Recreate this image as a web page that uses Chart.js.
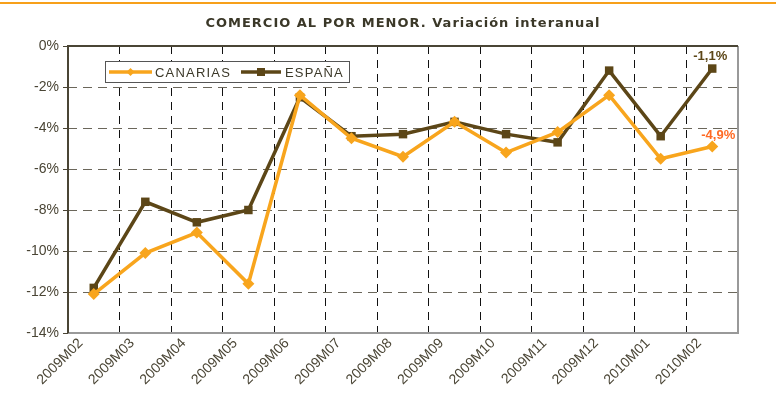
<!DOCTYPE html>
<html>
<head>
<meta charset="utf-8">
<script src="https://cdn.jsdelivr.net/npm/chart.js@4/dist/chart.umd.min.js"></script>
<style>
  html, body { margin: 0; padding: 0; background: #fff; }
  #wrap { width: 778px; height: 414px; position: relative; }
</style>
</head>
<body>
<div id="wrap"><canvas id="chart"></canvas></div>
<script>
const months = ['2009M02','2009M03','2009M04','2009M05','2009M06','2009M07','2009M08',
                '2009M09','2009M10','2009M11','2009M12','2010M01','2010M02'];
const canarias = [-12.1,-10.1,-9.1,-11.6,-2.4,-4.5,-5.4,-3.7,-5.2,-4.2,-2.4,-5.5,-4.9];
const espana   = [-11.8,-7.6,-8.6,-8.0,-2.5,-4.4,-4.3,-3.7,-4.3,-4.7,-1.2,-4.4,-1.1];
const yTicks = [0,-2,-4,-6,-8,-10,-12,-14];
const chartTitle = 'COMERCIO AL POR MENOR. Variación interanual';

const ORANGE = '#f8a51d';
const BROWN = '#5c4617';
const TEXT = '#4a4535';

function fmtPct(v){ return v.toFixed(1).replace('.', ',') + '%'; }

// top orange rule + title + frame
const decor = {
  id: 'decor',
  beforeDraw(chart){
    const {ctx, chartArea: a} = chart;
    ctx.save();
    ctx.fillStyle = '#fff';
    ctx.fillRect(0, 0, chart.width, chart.height);
    ctx.fillStyle = '#f7a01a';
    ctx.fillRect(0, 2, 776, 2);
    ctx.fillStyle = '#3b3828';
    ctx.font = 'bold 13px "DejaVu Sans"';
    ctx.letterSpacing = '1px';
    ctx.textAlign = 'center';
    ctx.textBaseline = 'middle';
    ctx.fillText(chartTitle, (a.left + a.right) / 2, 24);
    ctx.restore();
  },
  beforeDatasetsDraw(chart){
    const {ctx, chartArea: a} = chart;
    ctx.save();
    ctx.lineWidth = 2;
    ctx.strokeStyle = '#999';
    ctx.beginPath();
    ctx.moveTo(a.left, a.bottom); ctx.lineTo(a.right, a.bottom); ctx.lineTo(a.right, a.top);
    ctx.stroke();
    ctx.strokeStyle = '#4a4535';
    ctx.beginPath();
    ctx.moveTo(a.right, a.top); ctx.lineTo(a.left, a.top); ctx.lineTo(a.left, a.bottom);
    ctx.stroke();
    ctx.restore();
  },
  afterDraw(chart){
    const {ctx} = chart;
    ctx.save();
    // legend box
    ctx.fillStyle = '#fff';
    ctx.fillRect(105, 61, 244, 21);
    ctx.strokeStyle = '#555';
    ctx.lineWidth = 1;
    ctx.strokeRect(105.5, 61.5, 244, 21);
    const items = [
      {label: 'CANARIAS', color: ORANGE, x0: 109, x1: 152, tx: 155, shape: 'diamond'},
      {label: 'ESPAÑA', color: BROWN, x0: 241, x1: 281, tx: 285, shape: 'square'}
    ];
    const ly = 72;
    ctx.font = '13px "Liberation Sans"';
    ctx.letterSpacing = '1.2px';
    ctx.textBaseline = 'middle';
    items.forEach(it => {
      ctx.strokeStyle = it.color;
      ctx.fillStyle = it.color;
      ctx.lineWidth = 3.5;
      ctx.beginPath(); ctx.moveTo(it.x0, ly); ctx.lineTo(it.x1, ly); ctx.stroke();
      const cx = (it.x0 + it.x1) / 2;
      ctx.beginPath();
      if (it.shape === 'diamond') {
        ctx.moveTo(cx, ly - 4); ctx.lineTo(cx + 4, ly); ctx.lineTo(cx, ly + 4); ctx.lineTo(cx - 4, ly);
      } else {
        ctx.rect(cx - 4, ly - 4, 8, 8);
      }
      ctx.fill();
      ctx.fillStyle = '#3b3828';
      ctx.fillText(it.label, it.tx, ly + 1);
    });
    ctx.letterSpacing = '0px';
    // last-value labels
    ctx.font = 'bold 13px "Liberation Sans"';
    ctx.textAlign = 'center';
    ctx.textBaseline = 'middle';
    const last = months.length - 1;
    const pE = chart.getDatasetMeta(1).data[last];
    const pC = chart.getDatasetMeta(0).data[last];
    ctx.fillStyle = BROWN;
    ctx.fillText(fmtPct(espana[last]), pE.x - 2, pE.y - 12);
    ctx.fillStyle = '#ff6a24';
    ctx.fillText(fmtPct(canarias[last]), pC.x + 6, pC.y - 11);
    ctx.restore();
  }
};

new Chart(document.getElementById('chart'), {
  type: 'line',
  data: {
    labels: months,
    datasets: [
      {
        label: 'CANARIAS', data: canarias,
        borderColor: ORANGE, backgroundColor: ORANGE,
        borderWidth: 3.5, pointStyle: 'rectRot', pointRadius: 6, pointBorderWidth: 0,
        tension: 0
      },
      {
        label: 'ESPAÑA', data: espana,
        borderColor: BROWN, backgroundColor: BROWN,
        borderWidth: 3.5, pointStyle: 'rect', pointRadius: 6, pointBorderWidth: 0,
        tension: 0
      }
    ]
  },
  options: {
    responsive: true,
    maintainAspectRatio: false,
    animation: false,
    layout: { padding: { left: 8, right: 40, top: 46, bottom: 0 } },
    plugins: {
      legend: { display: false },
      title: { display: false },
      tooltip: { enabled: false }
    },
    scales: {
      x: {
        offset: true,
        grid: {
          offset: true,
          drawTicks: false,
          color: ctx => (ctx.index === 0 ? 'rgba(0,0,0,0)' : '#111'),
          lineWidth: 1
        },
        border: { display: false, dash: [8, 6] },
        ticks: {
          color: TEXT,
          font: { family: '"Liberation Sans"', size: 14 },
          minRotation: 45, maxRotation: 45,
          padding: 2,
          labelOffset: -13,
          autoSkip: false
        },
        afterFit: s => { s.height = 81; }
      },
      y: {
        min: -14, max: 0,
        afterBuildTicks: s => { s.ticks = yTicks.map(v => ({value: v})); },
        grid: {
          color: ctx => (ctx.tick && (ctx.tick.value === 0 || ctx.tick.value === -14) ? 'rgba(0,0,0,0)' : '#6b675b'),
          lineWidth: 1,
          drawTicks: true,
          tickLength: 5,
          tickColor: '#4a4535'
        },
        border: { display: false, dash: [9, 6] },
        ticks: {
          color: TEXT,
          font: { family: '"Liberation Sans"', size: 14 },
          padding: 4,
          callback: v => v + '%'
        },
        afterFit: s => { s.width = 60; }
      }
    }
  },
  plugins: [decor]
});
</script>
</body>
</html>
